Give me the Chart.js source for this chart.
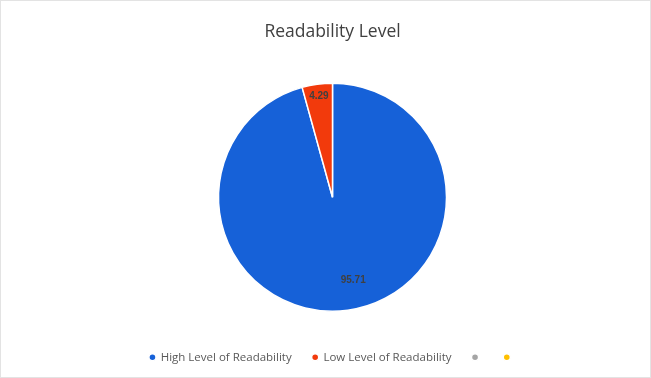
<!DOCTYPE html>
<html>
<head>
<meta charset="utf-8">
<script src="https://cdn.jsdelivr.net/npm/chart.js@4.4.0/dist/chart.umd.min.js"></script>
<style>
  html, body { margin: 0; padding: 0; background: #fff; }
  #wrap { width: 651px; height: 378px; position: relative; box-sizing: border-box; border: 1px solid #e3e3e3; }
</style>
</head>
<body>
<div id="wrap"><canvas id="chart"></canvas></div>
<script>
const labels = ['High Level of Readability', 'Low Level of Readability', '', ''];
const values = [95.71, 4.29, 0, 0];
const valueText = ['95.71', '4.29', '', ''];
const colors = ['#1661d8', '#f23a0c', '#a5a5a5', '#ffc000'];

// data labels drawn inside each slice (Excel "best fit"-like placement)
const sliceLabels = {
  id: 'sliceLabels',
  afterDatasetsDraw(chart) {
    const ctx = chart.ctx;
    const meta = chart.getDatasetMeta(0);
    const factors = [0.75, 0.89, 0.7, 0.7];
    // small angle shift (radians) for the big slice label
    const shifts = [-0.11, 0, 0, 0];
    meta.data.forEach((arc, i) => {
      if (!valueText[i]) return;
      const mid = (arc.startAngle + arc.endAngle) / 2 + shifts[i];
      const r = arc.outerRadius * factors[i];
      const x = arc.x + Math.cos(mid) * r;
      const y = arc.y + Math.sin(mid) * r;
      ctx.save();
      ctx.fillStyle = '#404040';
      ctx.font = 'bold 10px "Liberation Sans", Arial, sans-serif';
      ctx.textAlign = 'center';
      ctx.textBaseline = 'middle';
      ctx.fillText(valueText[i], x, y);
      ctx.restore();
    });
  }
};

new Chart(document.getElementById('chart'), {
  type: 'pie',
  data: {
    labels,
    datasets: [{
      data: values,
      backgroundColor: colors,
      borderColor: '#ffffff',
      borderWidth: 1.5,
      radius: 114,
    }],
  },
  options: {
    responsive: true,
    maintainAspectRatio: false,
    animation: false,
    layout: { padding: { top: 0, bottom: 4, left: 14, right: 0 } },
    plugins: {
      title: {
        display: true,
        text: 'Readability Level',
        color: '#404040',
        font: { family: '"Open Sans", sans-serif', size: 17.5, weight: 'normal' },
        padding: { top: 21, bottom: 21 },
      },
      legend: {
        position: 'bottom',
        labels: {
          usePointStyle: true,
          pointStyle: 'circle',
          boxWidth: 5,
          boxHeight: 5,
          color: '#595959',
          padding: 21,
          font: { family: '"Open Sans", sans-serif', size: 11.5 },
        },
      },
      tooltip: { enabled: false },
    },
  },
  plugins: [sliceLabels],
});
</script>
</body>
</html>
